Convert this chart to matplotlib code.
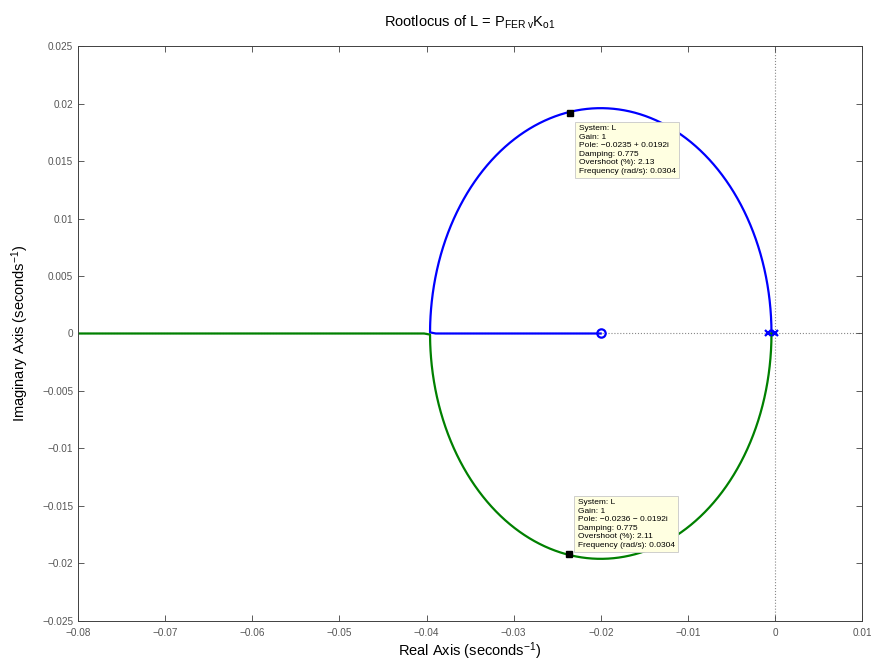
import numpy as np
import matplotlib
matplotlib.use("Agg")
import matplotlib.pyplot as plt

plt.rcParams['font.family'] = ['Liberation Sans', 'DejaVu Sans']
plt.rcParams['mathtext.fontset'] = 'custom'
plt.rcParams['mathtext.rm'] = 'Liberation Sans'
plt.rcParams['mathtext.it'] = 'Liberation Sans'

# open loop L = k (s - z) / ((s - p1)(s - p2))
poles = [0.0, -0.0008]
zeros = [-0.02]
k_loop = 0.0462

# data tips at gain 1
tip_poles = [(-0.0235, 0.0192), (-0.0236, -0.0192)]
tip_texts = [
    "System: L\nGain: 1\nPole: \u22120.0235 + 0.0192i\nDamping: 0.775\nOvershoot (%): 2.13\nFrequency (rad/s): 0.0304",
    "System: L\nGain: 1\nPole: \u22120.0236 \u2212 0.0192i\nDamping: 0.775\nOvershoot (%): 2.11\nFrequency (rad/s): 0.0304",
]

xticks = [-0.08, -0.07, -0.06, -0.05, -0.04, -0.03, -0.02, -0.01, 0, 0.01]
yticks = [-0.025, -0.02, -0.015, -0.01, -0.005, 0, 0.005, 0.01, 0.015, 0.02, 0.025]


def tick_fmt(t):
    if t == 0:
        return '0'
    return ('%g' % t).replace('-', '\u2212')


# closed loop roots: (s-p1)(s-p2) + g*k*(s-z) = 0
den = np.poly(poles)
num = np.poly(zeros)
gains = np.unique(np.concatenate([np.logspace(-5, 3, 4000), np.linspace(0, 3, 6000)]))
blue, green = [], []
for g in gains:
    r = np.roots(den + g * k_loop * np.concatenate([[0], num]))
    if abs(r[0].imag) > 1e-12:
        up = r[0] if r[0].imag > 0 else r[1]
        blue.append(up)
        green.append(np.conj(up))
    else:
        r = np.sort(r.real)
        blue.append(r[1] + 0j)
        green.append(r[0] + 0j)
blue = np.array(blue)
green = np.array(green)

fig = plt.figure(figsize=(8.71, 6.65), dpi=100)
ax = fig.add_axes([0.0896, 0.0662, 0.9002, 0.8646])

ax.axhline(0, color='#888888', linestyle=':', linewidth=0.8, zorder=0)
ax.axvline(0, color='#888888', linestyle=':', linewidth=0.8, zorder=0)

ax.plot(blue.real, blue.imag, color=(0, 0, 1), linewidth=1.6, zorder=2)
ax.plot(green.real, green.imag, color=(0, 0.5, 0), linewidth=1.6, zorder=2)

ax.plot(poles, [0] * len(poles), linestyle='none', marker='x', color=(0, 0, 1),
        markersize=5, markeredgewidth=1.6, zorder=3)
ax.plot(zeros, [0] * len(zeros), linestyle='none', marker='o', markerfacecolor='none',
        markeredgecolor=(0, 0, 1), markersize=6, markeredgewidth=1.6, zorder=3)

for (px, py), txt in zip(tip_poles, tip_texts):
    ax.plot(px, py, marker='s', color='black', markersize=4.5, zorder=5)
    if py > 0:
        off, va = (6, -9), 'top'
    else:
        off, va = (6, 4), 'bottom'
    ax.annotate(txt, xy=(px, py), xytext=off, textcoords='offset points',
                ha='left', va=va, fontsize=6.0, linespacing=1.3, zorder=6,
                bbox=dict(boxstyle='square,pad=0.4', facecolor='#ffffe1',
                          edgecolor='#c8c8c8', linewidth=0.6))

ax.set_xlim(-0.08, 0.01)
ax.set_ylim(-0.025, 0.025)
ax.set_xticks(xticks)
ax.set_yticks(yticks)
ax.set_xticklabels([tick_fmt(t) for t in xticks])
ax.set_yticklabels([tick_fmt(t) for t in yticks])
ax.tick_params(direction='in', top=True, right=True, labelsize=7.2,
               labelcolor='#555555', color='#404040', length=4, width=0.6)
ax.tick_params(axis='x', pad=5)
for s in ax.spines.values():
    s.set_color('#404040')
    s.set_linewidth(0.7)

ax.set_title(r"Rootlocus of L = P$_{\rm FER\ v}$K$_{\rm o1}$", fontsize=10.5, pad=14)
ax.set_xlabel(r"Real Axis (seconds$^{-1}$)", fontsize=10.5, labelpad=2)
ax.set_ylabel(r"Imaginary Axis (seconds$^{-1}$)", fontsize=10.5, labelpad=8)

fig.savefig("out.png", dpi=100)
